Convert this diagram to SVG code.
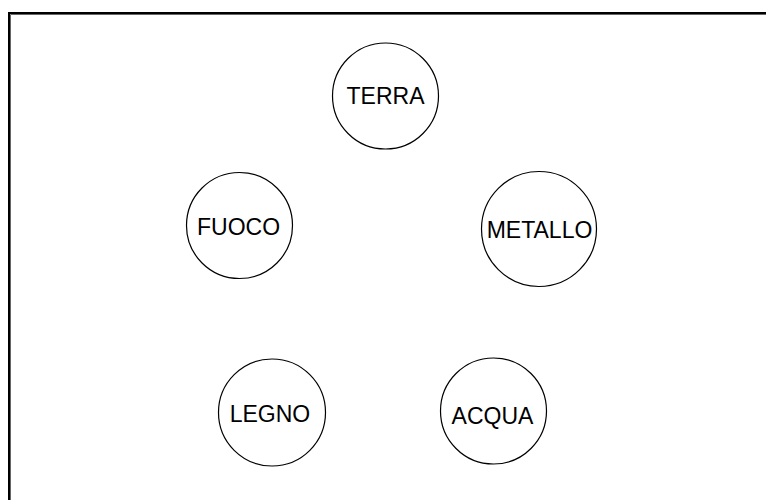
<svg xmlns="http://www.w3.org/2000/svg" width="766" height="500" viewBox="0 0 766 500">
<style>
.n circle{fill:#fff;stroke:#000;stroke-width:1.2}
.n text{font-family:"Liberation Sans",Arial,sans-serif;font-size:23px;fill:#000;text-anchor:middle}
</style>
<rect width="766" height="500" fill="#fff"/>
<rect x="9" y="13" width="770" height="500" fill="none" stroke="#000" stroke-width="2"/>
<path d="M10.5 520V14.5H780" fill="none" stroke="#666" stroke-width="1"/>
<g id="connectors"></g>
<g id="terra" class="n"><circle cx="385.5" cy="96" r="53"/><text x="385.5" y="104">TERRA</text></g>
<g id="fuoco" class="n"><circle cx="239.5" cy="225.5" r="53"/><text x="238.5" y="234.5">FUOCO</text></g>
<g id="metallo" class="n"><circle cx="539" cy="229" r="57.5"/><text x="539.5" y="238">METALLO</text></g>
<g id="legno" class="n"><circle cx="272" cy="412.5" r="53.5"/><text x="270" y="421.5">LEGNO</text></g>
<g id="acqua" class="n"><circle cx="493.5" cy="411" r="53"/><text x="492.5" y="424">ACQUA</text></g>
</svg>
